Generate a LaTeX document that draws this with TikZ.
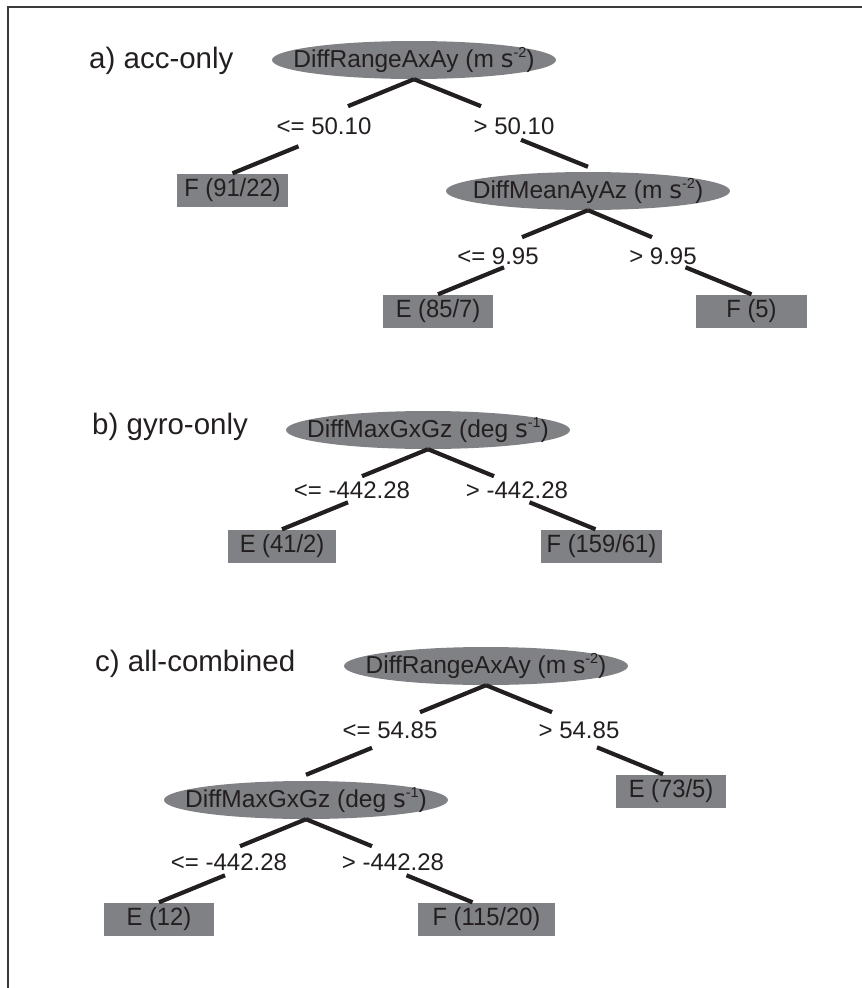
\documentclass[tikz,border=0pt]{standalone}
\usepackage{fontspec}
\setmainfont{Liberation Sans}
\newfontfamily\unitfont{DejaVu Sans}
\newfontfamily\leaffont{Liberation Sans}[FakeStretch=0.95]
\usetikzlibrary{calc}

\definecolor{ink}{HTML}{231F20}
\definecolor{nodegray}{HTML}{808184}
\definecolor{framegray}{HTML}{3A3A3A}

% small raised exponent and the heavier unit letter
\newcommand\expo[1]{\raisebox{0.38em}{\fontsize{14.5}{15}\selectfont #1}}
\newcommand\unitS{{\unitfont s}}

\begin{document}
\begin{tikzpicture}[x=1pt, y=-1pt,
  every node/.style={text=ink, font=\fontsize{24}{28}\selectfont},
  split/.style={rectangle, inner sep=0pt, minimum width=284pt, minimum height=38pt,
    font=\fontsize{24.5}{29}\selectfont,
    path picture={\fill[nodegray] (path picture bounding box.center)
      ellipse [x radius=142pt, y radius=19pt];}},
  leaf/.style={rectangle, fill=nodegray, inner sep=0pt, minimum height=33pt,
    font=\leaffont\fontsize{25}{29}\selectfont},
  cond/.style={inner sep=0pt},
  title/.style={anchor=west, inner sep=0pt, font=\fontsize{29.5}{34}\selectfont},
  edge/.style={line width=4.2pt, draw=ink}]

\useasboundingbox (0,0) rectangle (862,988);

% open frame: top and left sides only
\draw[line width=2.2pt, framegray] (862,7) -- (8,7) -- (8,988);

% ---------------- a) acc-only ----------------
\node[title] (ta) at (89,61) {a) acc-only};
\node[split] (A1) at (414,60) {DiffRangeAxAy (m \unitS\expo{-2})};
\node[leaf, minimum width=111pt] (F1) at (232.5,190) {F (91/22)};
\node[split] (A2) at (588,191) {DiffMeanAyAz (m \unitS\expo{-2})};
\node[leaf, minimum width=110pt] (E1) at (438,311) {E (85/7)};
\node[leaf, minimum width=111pt] (F2) at (751.5,311) {F (5)};

\node[cond] (a1l) at (324,126) {<= 50.10};
\node[cond] (a1r) at (514,126) {> 50.10};
\node[cond] (a2l) at (498,256) {<= 9.95};
\node[cond] (a2r) at (663,256) {> 9.95};

\draw[edge] (A1.south) -- ++(-66,27);
\draw[edge] (F1.north) -- ++(66,-27);
\draw[edge] (A1.south) -- ++(67,27);
\draw[edge] ([yshift=5pt]A2.north) -- ++(-67,-27);
\draw[edge] (A2.south) -- ++(-66,27);
\draw[edge] (E1.north) -- ++(66,-27);
\draw[edge] (A2.south) -- ++(64,27);
\draw[edge] (F2.north) -- ++(-66,-27);

% ---------------- b) gyro-only ----------------
\node[title] (tb) at (92,427) {b) gyro-only};
\node[split] (B1) at (428,430) {DiffMaxGxGz (deg \unitS\expo{-1})};
\node[leaf, minimum width=108pt] (E2) at (282,546) {E (41/2)};
\node[leaf, minimum width=121pt] (F3) at (601.5,546) {F (159/61)};

\node[cond] (b1l) at (352,490) {<= -442.28};
\node[cond] (b1r) at (517,490) {> -442.28};

\draw[edge] (B1.south) -- ++(-66,27);
\draw[edge] (E2.north) -- ++(66,-27);
\draw[edge] (B1.south) -- ++(66,27);
\draw[edge] ([xshift=-6pt]F3.north) -- ++(-66,-27);

% ---------------- c) all-combined ----------------
\node[title] (tc) at (95,664) {c) all-combined};
\node[split] (C1) at (486,666) {DiffRangeAxAy (m s\expo{-2})};
\node[split] (C2) at (306,800) {DiffMaxGxGz (deg \unitS\expo{-1})};
\node[leaf, minimum width=110pt] (E3) at (671,791) {E (73/5)};
\node[leaf, minimum width=110pt] (E4) at (159,919) {E (12)};
\node[leaf, minimum width=137pt] (F4) at (486.5,919) {F (115/20)};

\node[cond] (c1l) at (390,730) {<= 54.85};
\node[cond] (c1r) at (579,730) {> 54.85};
\node[cond] (c2l) at (229,862) {<= -442.28};
\node[cond] (c2r) at (393,862) {> -442.28};

\draw[edge] (C1.south) -- ++(-66,27);
\draw[edge] ([yshift=6pt]C2.north) -- ++(66,-27);
\draw[edge] (C1.south) -- ++(66,27);
\draw[edge] ([xshift=-8pt]E3.north) -- ++(-66,-27);
\draw[edge] (C2.south) -- ++(-66,27);
\draw[edge] (E4.north) -- ++(66,-27);
\draw[edge] (C2.south) -- ++(66,27);
\draw[edge] ([xshift=-14pt]F4.north) -- ++(-66,-27);

\end{tikzpicture}
\end{document}
